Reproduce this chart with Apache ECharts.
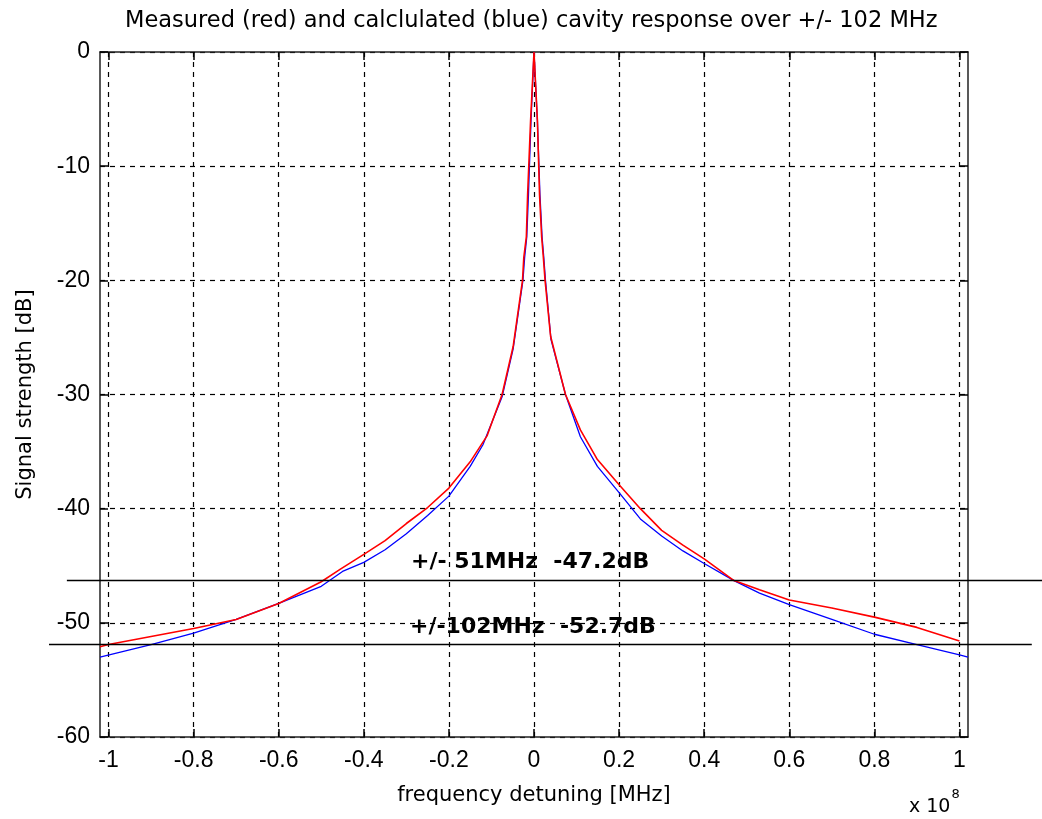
<!DOCTYPE html>
<html>
<head>
<meta charset="utf-8">
<script src="https://cdn.jsdelivr.net/npm/echarts@6.0.0/dist/echarts.min.js"></script>
<style>
html, body { margin: 0; padding: 0; background: #fff; }
#mychart { width: 1042px; height: 819px; }
</style>
</head>
<body>
<div id="mychart"></div>
<script>
// x ticks (in units of 10^8 Hz)
var freqTicks = [-1, -0.8, -0.6, -0.4, -0.2, 0, 0.2, 0.4, 0.6, 0.8, 1];

// measured (red)
var redX = [-1.02, -1.0, -0.9, -0.8, -0.7, -0.6, -0.5, -0.455, -0.4, -0.35, -0.3, -0.25, -0.2, -0.15, -0.11, -0.075, -0.049, -0.027, -0.024, -0.018, -0.015, -0.008, 0,
    0.008, 0.013, 0.018, 0.022, 0.026, 0.039, 0.074, 0.109, 0.149, 0.2, 0.25, 0.3, 0.35, 0.4, 0.47, 0.53, 0.6, 0.7, 0.8, 0.9, 1.0];
var redDb = [-52.1, -51.9, -51.2, -50.5, -49.7, -48.3, -46.4, -45.3, -44.0, -42.8, -41.3, -39.9, -38.2, -35.9, -33.6, -30.0, -25.8, -20.0, -18.0, -16.2, -12.5, -6.0, 0,
    -6.0, -12.5, -16.2, -18.0, -20.0, -24.9, -30.0, -33.1, -35.7, -37.9, -40.0, -41.9, -43.2, -44.4, -46.3, -47.1, -48.0, -48.7, -49.5, -50.4, -51.6];

// calculated (blue)
var blueX = [-1.02, -0.9, -0.8, -0.7, -0.6, -0.5, -0.45, -0.4, -0.35, -0.3, -0.25, -0.2, -0.15, -0.12, -0.075, -0.049, -0.026, -0.022, -0.017, -0.013, -0.007, 0,
    0.008, 0.014, 0.019, 0.023, 0.027, 0.04, 0.074, 0.109, 0.149, 0.2, 0.25, 0.3, 0.35, 0.4, 0.47, 0.53, 0.6, 0.7, 0.8, 0.9, 1.0, 1.02];
var blueDb = [-53.0, -51.9, -50.9, -49.7, -48.3, -46.8, -45.5, -44.7, -43.6, -42.2, -40.6, -38.9, -36.3, -34.4, -30.2, -26.0, -20.0, -18.0, -16.2, -12.5, -6.0, 0,
    -6.0, -12.5, -16.2, -18.0, -20.0, -25.2, -30.0, -33.7, -36.3, -38.6, -40.9, -42.4, -43.7, -44.8, -46.3, -47.4, -48.4, -49.7, -51.0, -51.9, -52.8, -53.0];

// annotation lines
var markLevels = [-46.3, -51.9];
var markStart = [-1.098, -1.14];
var markEnd = [1.194, 1.17];
var markLabels = ['+/- 51MHz  -47.2dB', '+/-102MHz  -52.7dB'];

function pairs(xs, ys) {
    var out = [];
    for (var i = 0; i < xs.length; i++) {
        out.push([xs[i], ys[i]]);
    }
    return out;
}

var myChart = echarts.init(document.getElementById('mychart'), null, { renderer: 'canvas' });

var tickFont = 'Liberation Sans';
var textFont = 'DejaVu Sans';
var frameLine = { show: true, onZero: false, lineStyle: { color: '#222', width: 1.5 } };
var dash = { show: true, lineStyle: { color: '#000', type: [5, 5], width: 1.2 } };
var tickStyle = { color: '#000', width: 1.5 };

var annSeries = [];
for (var k = 0; k < markLevels.length; k++) {
    annSeries.push({
        name: 'mark' + k,
        type: 'line',
        xAxisIndex: 2,
        yAxisIndex: 2,
        symbol: 'none',
        silent: true,
        z: 5,
        lineStyle: { color: '#000', width: 1.5 },
        data: [[markStart[k], markLevels[k]], [markEnd[k], markLevels[k]]]
    });
}

myChart.setOption({
    animation: false,
    title: {
        text: 'Measured (red) and calclulated (blue) cavity response over +/- 102 MHz',
        left: 120,
        top: 5,
        textStyle: { fontFamily: textFont, fontSize: 22.5, fontWeight: 'normal', color: '#000' }
    },
    grid: [
        { left: 100, right: 74, top: 52, bottom: 82, show: false },
        { left: 49, right: 0, top: 52, bottom: 82, show: false }
    ],
    xAxis: [
        {
            type: 'value', gridIndex: 0, min: -1.02, max: 1.02,
            axisLine: frameLine,
            axisTick: { show: true, inside: true, length: 8, customValues: freqTicks, lineStyle: tickStyle },
            axisLabel: { customValues: freqTicks, margin: 12, color: '#000', fontFamily: tickFont, fontSize: 23 },
            splitLine: dash,
            name: 'frequency detuning [MHz]',
            nameLocation: 'middle',
            nameGap: 48,
            nameTextStyle: { fontFamily: textFont, fontSize: 21, color: '#000' }
        },
        {
            type: 'value', gridIndex: 0, min: -1.02, max: 1.02, position: 'top',
            axisLine: frameLine,
            axisTick: { show: true, inside: true, length: 8, customValues: freqTicks, lineStyle: tickStyle },
            axisLabel: { show: false },
            splitLine: { show: false }
        },
        {
            type: 'value', gridIndex: 1, min: -1.14, max: 1.194, show: false
        }
    ],
    yAxis: [
        {
            type: 'value', gridIndex: 0, min: -60, max: 0, interval: 10,
            axisLine: frameLine,
            axisTick: { show: true, inside: true, length: 8, lineStyle: tickStyle },
            axisLabel: { margin: 10, color: '#000', fontFamily: tickFont, fontSize: 23 },
            splitLine: dash,
            name: 'Signal strength [dB]',
            nameLocation: 'middle',
            nameGap: 64,
            nameTextStyle: { fontFamily: textFont, fontSize: 21, color: '#000' }
        },
        {
            type: 'value', gridIndex: 0, min: -60, max: 0, interval: 10, position: 'right',
            axisLine: frameLine,
            axisTick: { show: true, inside: true, length: 8, lineStyle: tickStyle },
            axisLabel: { show: false },
            splitLine: { show: false }
        },
        {
            type: 'value', gridIndex: 1, min: -60, max: 0, show: false
        }
    ],
    series: [
        {
            name: 'calculated',
            type: 'line',
            xAxisIndex: 0,
            yAxisIndex: 0,
            symbol: 'none',
            lineStyle: { color: '#0000ff', width: 1.3 },
            data: pairs(blueX, blueDb)
        },
        {
            name: 'measured',
            type: 'line',
            xAxisIndex: 0,
            yAxisIndex: 0,
            symbol: 'none',
            lineStyle: { color: '#ff0000', width: 1.6 },
            data: pairs(redX, redDb)
        }
    ].concat(annSeries),
    graphic: [
        {
            type: 'text', left: 411, top: 551, z: 10,
            style: { text: markLabels[0], font: 'bold 22px "DejaVu Sans"', fill: '#000' }
        },
        {
            type: 'text', left: 410, top: 616, z: 10,
            style: { text: markLabels[1], font: 'bold 22px "DejaVu Sans"', fill: '#000' }
        },
        {
            type: 'text', left: 909, top: 788, z: 10,
            style: {
                text: '{b|x 10}{s|8}',
                rich: {
                    b: { font: '19px "DejaVu Sans"', fill: '#000', verticalAlign: 'bottom', padding: [10, 0, 0, 0] },
                    s: { font: '13px "DejaVu Sans"', fill: '#000', verticalAlign: 'top', padding: [0, 0, 12, 1] }
                }
            }
        }
    ]
});
</script>
</body>
</html>
